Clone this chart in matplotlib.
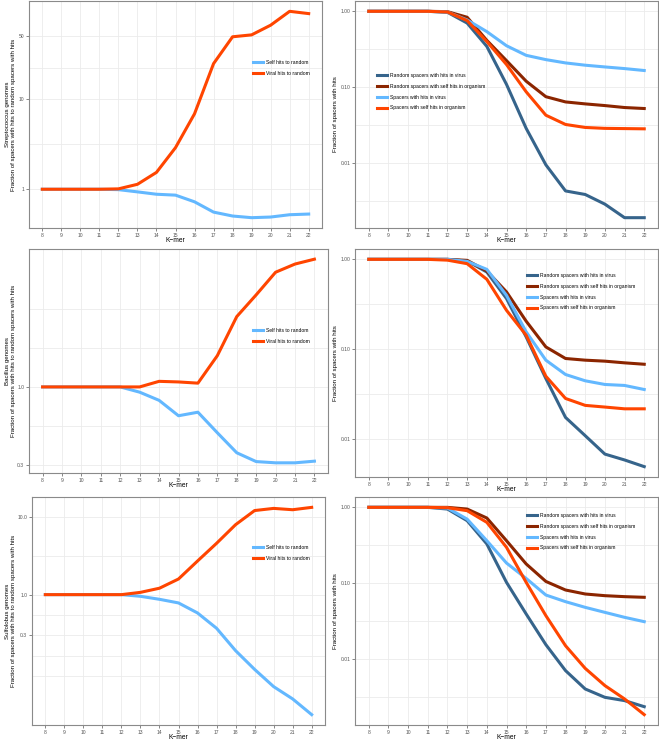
import numpy as np
import matplotlib
matplotlib.use('Agg')
import matplotlib.pyplot as plt

plt.rcParams['font.family'] = ['Liberation Sans', 'DejaVu Sans']

kmer = list(range(8, 23))

# ratio panels (left column)
strep_self = [1.0, 1.0, 1.0, 1.0, 0.99, 0.935, 0.88, 0.86, 0.725, 0.557, 0.504, 0.483, 0.491, 0.521, 0.53]
strep_viral = [1.0, 1.0, 1.0, 1.0, 1.01, 1.135, 1.54, 2.9, 6.9, 24.9, 49.5, 52.0, 66.6, 95.0, 89.6]
bac_self = [1.0, 1.0, 1.0, 1.0, 1.0, 0.922, 0.813, 0.641, 0.677, 0.493, 0.362, 0.316, 0.31, 0.31, 0.318]
bac_viral = [1.0, 1.0, 1.0, 1.0, 1.0, 1.0, 1.09, 1.08, 1.06, 1.62, 2.96, 4.14, 5.87, 6.66, 7.18]
sulf_self = [1.0, 1.0, 1.0, 1.0, 1.0, 0.952, 0.871, 0.782, 0.581, 0.369, 0.19, 0.109, 0.0654, 0.0454, 0.0285]
sulf_viral = [1.0, 1.0, 1.0, 1.0, 1.0, 1.07, 1.21, 1.59, 2.71, 4.58, 7.96, 12.1, 12.9, 12.4, 13.3]

# fraction panels (right column)
strep_rand_virus = [1.0, 1.0, 1.0, 1.0, 0.97, 0.70, 0.345, 0.109, 0.0287, 0.0095, 0.0043, 0.00386, 0.00288, 0.00191, 0.00191]
strep_rand_self = [1.0, 1.0, 1.0, 1.0, 0.99, 0.835, 0.414, 0.224, 0.12, 0.075, 0.064, 0.0603, 0.0573, 0.054, 0.0524]
strep_virus = [1.0, 1.0, 1.0, 1.0, 0.98, 0.77, 0.54, 0.352, 0.263, 0.231, 0.209, 0.195, 0.185, 0.176, 0.166]
strep_selfhit = [1.0, 1.0, 1.0, 1.0, 0.98, 0.755, 0.40, 0.199, 0.087, 0.0428, 0.0323, 0.0295, 0.0287, 0.0285, 0.0283]

bac_rand_virus = [1.0, 1.0, 1.0, 1.0, 1.0, 0.958, 0.723, 0.366, 0.137, 0.0472, 0.0174, 0.0109, 0.0068, 0.00585, 0.00493]
bac_rand_self = [1.0, 1.0, 1.0, 1.0, 1.0, 0.975, 0.742, 0.434, 0.205, 0.106, 0.0788, 0.0755, 0.0736, 0.0705, 0.068]
bac_virus = [1.0, 1.0, 1.0, 1.0, 1.0, 0.95, 0.774, 0.398, 0.156, 0.0755, 0.0523, 0.0445, 0.0405, 0.0395, 0.0356]
bac_selfhit = [1.0, 1.0, 1.0, 1.0, 0.98, 0.895, 0.60, 0.271, 0.143, 0.05, 0.0283, 0.0237, 0.0227, 0.0217, 0.0217]

sulf_rand_virus = [1.0, 1.0, 1.0, 1.0, 0.95, 0.668, 0.33, 0.103, 0.0395, 0.0156, 0.0071, 0.00407, 0.00316, 0.00286, 0.00238]
sulf_rand_self = [1.0, 1.0, 1.0, 1.0, 1.0, 0.95, 0.724, 0.364, 0.18, 0.106, 0.0817, 0.0724, 0.0688, 0.0668, 0.0655]
sulf_virus = [1.0, 1.0, 1.0, 1.0, 0.98, 0.70, 0.364, 0.185, 0.116, 0.0702, 0.0574, 0.0483, 0.0415, 0.0357, 0.0313]
sulf_selfhit = [1.0, 1.0, 1.0, 1.0, 0.99, 0.904, 0.635, 0.298, 0.103, 0.0376, 0.0151, 0.0076, 0.00451, 0.00301, 0.00187]

ratio_labels = ['Self hits to random', 'Viral hits to random']
frac_labels = ['Random spacers with hits in virus', 'Random spacers with self hits in organism',
               'Spacers with hits in virus', 'Spacers with self hits in organism']
ratio_colors = ['#63B8FF', '#FF4500']
frac_colors = ['#36648B', '#8B2500', '#63B8FF', '#FF4500']

W, H = 659, 741
fig = plt.figure(figsize=(W / 100, H / 100), dpi=100)


def px_axes(x0, y0, x1, y1):
    return fig.add_axes([x0 / W, 1 - y1 / H, (x1 - x0) / W, (y1 - y0) / H])


def log_minor(major):
    lb = np.log10(major)
    d = lb[1] - lb[0]
    lb = np.concatenate([[lb[0] - d], lb, [lb[-1] + d]])
    mids = (lb[:-1] + lb[1:]) / 2
    return 10 ** np.concatenate([lb, mids])


def style(ax, box, yticks, ylabels, ylabel, label_right):
    x0, y0, x1, y1 = box
    ax.set_yscale('log')
    ax.set_xlim(7.3, 22.7)
    ylim = ax.get_ylim()
    ax.set_xticks(kmer)
    ax.set_xticklabels([str(k) for k in kmer])
    ax.set_xticks([], minor=True)
    ax.set_yticks(yticks)
    ax.set_yticklabels(ylabels)
    ax.set_yticks([v for v in log_minor(yticks) if ylim[0] < v < ylim[1]], minor=True)
    ax.set_ylim(ylim)
    ax.grid(True, which='both', color='#EBEBEB', linewidth=0.6)
    ax.set_axisbelow(True)
    ax.tick_params(which='major', labelsize=3.6, colors='#555555', length=2, width=0.5, pad=1.5)
    ax.tick_params(which='minor', length=0)
    for s in ax.spines.values():
        s.set_color('#8a8a8a')
        s.set_linewidth(0.8)
    ax.set_xlabel('K\u2212mer', fontsize=4.8)
    ax.xaxis.set_label_coords(0.5, -12.5 / (y1 - y0))
    ax.xaxis.label.set_va('center')
    ax.set_ylabel(ylabel, fontsize=4.4)
    ax.yaxis.set_label_coords((label_right - x0) / (x1 - x0), 0.5)


def legend(ax, x, y):
    lg = ax.legend(loc='upper left', bbox_to_anchor=(x / W, 1 - y / H), bbox_transform=fig.transFigure,
                   frameon=False, fontsize=3.6, handlelength=1.9, handletextpad=0.6,
                   labelspacing=1.15, borderpad=0, borderaxespad=0)
    for h in lg.get_lines():
        h.set_linewidth(2.2)


left_panels = [
    ((29, 1, 322, 228), strep_self, strep_viral, [1, 10, 50], ['1', '10', '50'], 'Streptococcus genomes', (253, 60)),
    ((29, 249, 328, 473), bac_self, bac_viral, [0.3, 1.0], ['0.3', '1.0'], 'Bacillus genomes', (253, 328)),
    ((32, 497, 325, 725), sulf_self, sulf_viral, [0.3, 1.0, 10.0], ['0.3', '1.0', '10.0'], 'Sulfolobus genomes', (253, 545)),
]
for box, s, v, yt, yl, name, lpos in left_panels:
    ax = px_axes(*box)
    ax.plot(kmer, s, color=ratio_colors[0], lw=2.2, label=ratio_labels[0])
    ax.plot(kmer, v, color=ratio_colors[1], lw=2.2, label=ratio_labels[1])
    style(ax, box, yt, yl, name + '\nFraction of spacers with hits to random spacers with hits', 16)
    legend(ax, *lpos)

right_panels = [
    ((355, 1, 658, 228), [strep_rand_virus, strep_rand_self, strep_virus, strep_selfhit], (377, 73)),
    ((355, 249, 658, 477), [bac_rand_virus, bac_rand_self, bac_virus, bac_selfhit], (527, 273)),
    ((355, 497, 658, 725), [sulf_rand_virus, sulf_rand_self, sulf_virus, sulf_selfhit], (527, 513)),
]
for box, series, lpos in right_panels:
    ax = px_axes(*box)
    for vals, c, lab in zip(series, frac_colors, frac_labels):
        ax.plot(kmer, vals, color=c, lw=2.2, label=lab)
    style(ax, box, [0.01, 0.1, 1.0], ['0.01', '0.10', '1.00'], 'Fraction of spacers with hits', 338)
    legend(ax, *lpos)

fig.savefig('out.png', dpi=100)
